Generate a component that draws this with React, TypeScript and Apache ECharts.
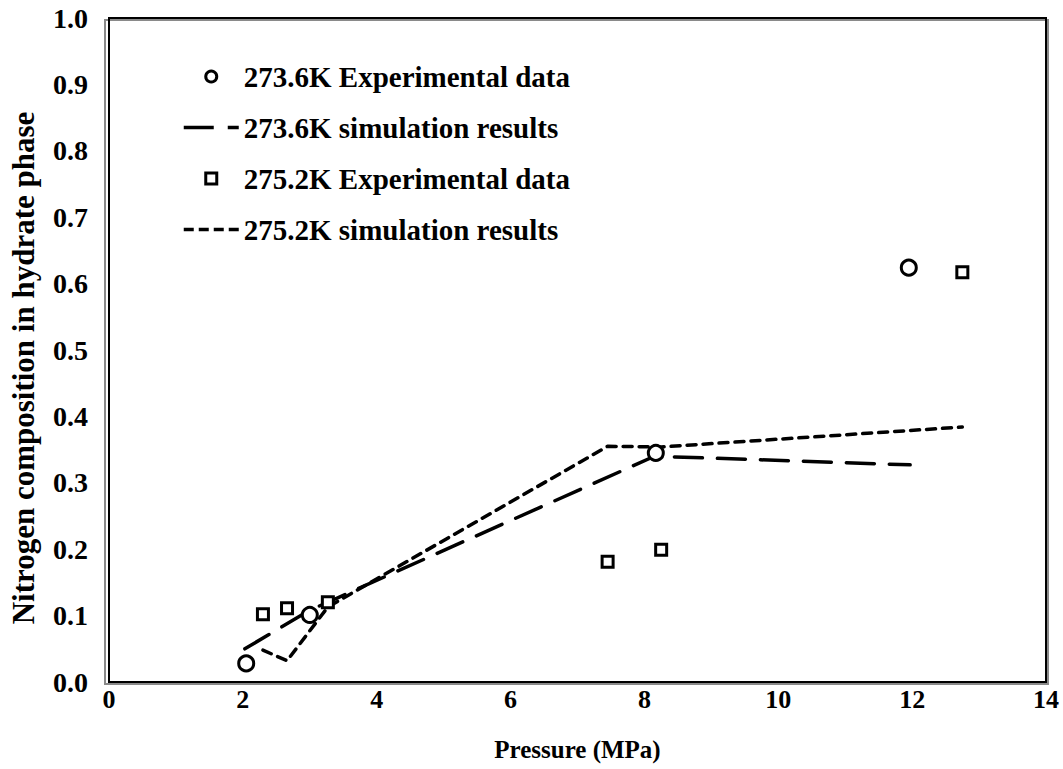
import React, { useEffect, useRef } from "react";
import * as echarts from "echarts";

const exp2736P = [2.05, 3.0, 8.17, 11.95];
const exp2736N = [0.028, 0.101, 0.345, 0.624];
const sim2736P = [2.03, 3.0, 8.15, 11.97];
const sim2736N = [0.05, 0.108, 0.34, 0.327];
const exp2752P = [2.3, 2.66, 3.27, 7.45, 8.25, 12.75];
const exp2752N = [0.102, 0.111, 0.12, 0.181, 0.199, 0.617];
const sim2752P = [2.3, 2.66, 3.27, 7.45, 8.25, 12.75];
const sim2752N = [0.048, 0.032, 0.113, 0.355, 0.354, 0.384];

const xTicks = [0, 2, 4, 6, 8, 10, 12, 14];
const yTicks = [0, 0.1, 0.2, 0.3, 0.4, 0.5, 0.6, 0.7, 0.8, 0.9, 1.0];

const names = [
  "273.6K Experimental data",
  "273.6K simulation results",
  "275.2K Experimental data",
  "275.2K simulation results",
];

const pair = (xs: number[], ys: number[]) => xs.map((x, i) => [x, ys[i]]);

const FONT = "'Liberation Serif', 'Times New Roman', serif";

export default function App() {
  const ref = useRef<HTMLDivElement>(null);
  useEffect(() => {
    if (!ref.current) return;
    const chart = echarts.init(ref.current, undefined, { renderer: "svg" });
    const W = 1063, H = 769;
    const gl = 103, gr = 17, gt = 18, gb = 87;
    const markStyle = { color: "#fff", borderColor: "#000", borderWidth: 3, opacity: 1 };
    chart.setOption({
      animation: false,
      backgroundColor: "#fff",
      grid: {
        left: gl, right: gr, top: gt, bottom: gb,
        show: true, borderColor: "#000", borderWidth: 2,
      },
      graphic: [
        {
          type: "rect",
          z: -1,
          shape: { x: gl + 2, y: gt + 2, width: W - gl - gr, height: H - gt - gb },
          style: { fill: "none", stroke: "#8a8a8a", lineWidth: 2 },
        },
      ],
      xAxis: {
        type: "value", min: xTicks[0], max: xTicks[xTicks.length - 1], interval: 2,
        name: "Pressure (MPa)", nameLocation: "middle", nameGap: 55,
        nameTextStyle: { fontFamily: FONT, fontWeight: "bold", fontSize: 25, color: "#000" },
        axisLine: { show: false }, axisTick: { show: false }, splitLine: { show: false },
        axisLabel: { fontFamily: FONT, fontWeight: "bold", fontSize: 26, color: "#000", margin: 4 },
      },
      yAxis: {
        type: "value", min: yTicks[0], max: yTicks[yTicks.length - 1], interval: 0.1,
        name: "Nitrogen composition in hydrate phase", nameLocation: "middle", nameGap: 70,
        nameTextStyle: {
          fontFamily: FONT, fontWeight: "bold", fontSize: 31, color: "#000",
          padding: [0, 36, 0, 0],
        },
        axisLine: { show: false }, axisTick: { show: false }, splitLine: { show: false },
        axisLabel: {
          fontFamily: FONT, fontWeight: "bold", fontSize: 28, color: "#000", margin: 21,
          formatter: (v: number) => v.toFixed(1),
        },
      },
      legend: {
        orient: "vertical", left: 177, top: 57,
        itemWidth: 55, itemHeight: 11, itemGap: 22,
        textStyle: { fontFamily: FONT, fontWeight: "bold", fontSize: 29, color: "#000", lineHeight: 28 },
        data: [
          { name: names[0], icon: "circle", itemStyle: markStyle },
          {
            name: names[1], itemStyle: { opacity: 0 },
            lineStyle: { color: "#000", width: 3.5, type: [30, 14], cap: "butt" },
          },
          { name: names[2], icon: "path://M0,0L10,0L10,10L0,10Z", itemStyle: markStyle },
          {
            name: names[3], itemStyle: { opacity: 0 },
            lineStyle: { color: "#000", width: 3.5, type: [10, 5], cap: "butt" },
          },
        ],
      },
      series: [
        {
          name: names[0], type: "scatter", data: pair(exp2736P, exp2736N),
          symbol: "circle", symbolSize: 15, z: 3, itemStyle: markStyle,
        },
        {
          name: names[1], type: "line", data: pair(sim2736P, sim2736N),
          symbol: "none", showSymbol: false, z: 2,
          lineStyle: { color: "#000", width: 3.5, type: [28, 15], cap: "round" },
          itemStyle: { color: "#000" },
        },
        {
          name: names[2], type: "scatter", data: pair(exp2752P, exp2752N),
          symbol: "rect", symbolSize: 11, z: 3, itemStyle: markStyle,
        },
        {
          name: names[3], type: "line", data: pair(sim2752P, sim2752N),
          symbol: "none", showSymbol: false, z: 2,
          lineStyle: { color: "#000", width: 3.5, type: [9, 7], cap: "round" },
          itemStyle: { color: "#000" },
        },
      ],
    });
    return () => chart.dispose();
  }, []);
  return (
    <div
      ref={ref}
      style={{ position: "fixed", left: 0, top: 0, width: 1063, height: 769, background: "#fff" }}
    />
  );
}
